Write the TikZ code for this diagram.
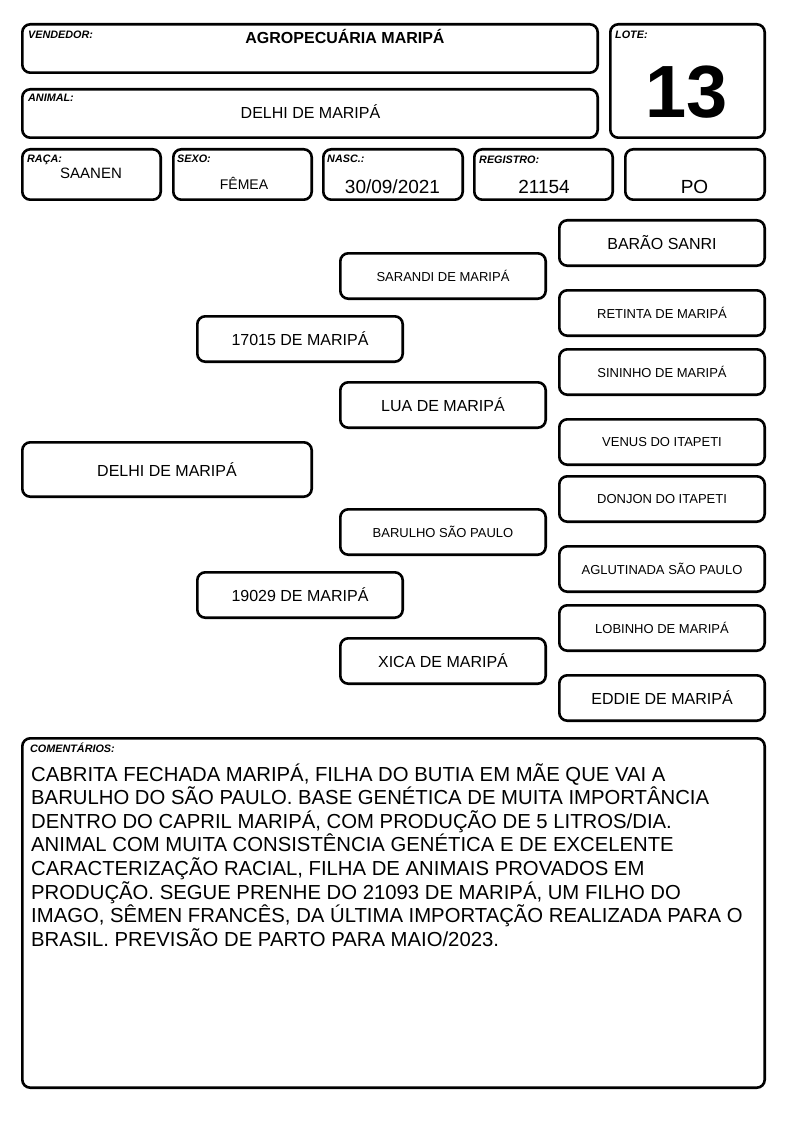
\documentclass[tikz,border=0pt]{standalone}
\usepackage{fontspec}
\setmainfont{Liberation Sans}
\newcommand\fs[1]{\fontsize{#1}{#1}\selectfont}
\begin{document}
\begin{tikzpicture}[x=1pt,y=-1pt,
  box/.style={draw, line width=2.6pt, rounded corners=8pt, inner sep=0pt},
  lbl/.style={anchor=base west, inner sep=0pt, font=\fs{10.8}\bfseries\itshape},
  val/.style={anchor=base, inner sep=0pt},
  big/.style={font=\fs{16}},
  small/.style={font=\fs{13}}]
\useasboundingbox[fill=white] (0,0) rectangle (794,1123);
\newcommand\pbox[6][]{%
  \node[box,#1, minimum width={#5pt-#3pt-2.6pt}, minimum height={#6pt-#4pt-2.6pt}]
    (#2) at ({(#3+#5)/2},{(#4+#6)/2}) {};}
\newcommand\tbox[7][]{%
  \node[box,#1, minimum width={#5pt-#3pt-2.6pt}, minimum height={#6pt-#4pt-2.6pt}]
    (#2) at ({(#3+#5)/2},{(#4+#6)/2}) {#7};}
% header boxes
\pbox{vend}{21}{23}{599}{74}
\pbox{anim}{21}{88}{599}{139}
\pbox{lote}{609}{23}{766}{139}
\pbox{raca}{21}{148}{162}{201}
\pbox{sexo}{172}{148}{313}{201}
\pbox{nasc}{322}{148}{464}{201}
\pbox{reg}{473}{148}{614}{201}
\pbox{po}{624}{148}{766}{201}
\node[lbl] (lvend) at (28,38.5) {VENDEDOR:};
\node[val, font=\fs{16}\bfseries] (tvend) at (345,43.5) {AGROPECUÁRIA MARIPÁ};
\node[lbl] (lanim) at (28,102) {ANIMAL:};
\node[val, font=\fs{16}] (tanim) at (310.5,118.5) {DELHI DE MARIPÁ};
\node[lbl] (llote) at (615,39) {LOTE:};
\node[val, font=\fs{74}\bfseries] (tlote) at (687,118) {13};
\node[lbl] (lraca) at (27,163) {RAÇA:};
\node[val, font=\fs{15}] (traca) at (91,178.3) {SAANEN};
\node[lbl] (lsexo) at (177,163) {SEXO:};
\node[val, font=\fs{14}] (tsexo) at (244,190) {FÊMEA};
\node[lbl] (lnasc) at (327,163) {NASC.:};
\node[val, font=\fs{19}] (tnasc) at (392.5,193.3) {30/09/2021};
\node[lbl] (lreg) at (479,163.5) {REGISTRO:};
\node[val, font=\fs{19}] (treg) at (544,193.3) {21154};
\node[val, font=\fs{19}] (tpo) at (694.5,193.5) {PO};
% pedigree
\tbox[big]{p1}{558}{219}{766}{267}{BARÃO SANRI}
\tbox[small]{p2}{339}{252}{547}{300}{SARANDI DE MARIPÁ}
\tbox[small]{p3}{558}{289}{766}{337}{RETINTA DE MARIPÁ}
\tbox[big]{p4}{196}{315}{404}{363}{17015 DE MARIPÁ}
\tbox[small]{p5}{558}{348}{766}{396}{SININHO DE MARIPÁ}
\tbox[big]{p6}{339}{381}{547}{429}{LUA DE MARIPÁ}
\tbox[small]{p7}{558}{418}{766}{466}{VENUS DO ITAPETI}
\tbox[big]{p8}{21}{441}{313}{498}{DELHI DE MARIPÁ}
\tbox[small]{p9}{558}{475}{766}{523}{DONJON DO ITAPETI}
\tbox[small]{p10}{339}{508}{547}{556}{BARULHO SÃO PAULO}
\tbox[small]{p11}{558}{545}{766}{593}{AGLUTINADA SÃO PAULO}
\tbox[big]{p12}{196}{571}{404}{619}{19029 DE MARIPÁ}
\tbox[small]{p13}{558}{604}{766}{652}{LOBINHO DE MARIPÁ}
\tbox[big]{p14}{339}{637}{547}{685}{XICA DE MARIPÁ}
\tbox[big]{p15}{558}{674}{766}{722}{EDDIE DE MARIPÁ}
% comments
\pbox{com}{21}{737}{766}{1089}
\node[lbl] (lcom) at (30,752.7) {COMENTÁRIOS:};
\begin{scope}[every node/.style={anchor=base west, inner sep=0pt, font=\fs{20.3}}]
\node (c1) at (31,781) {CABRITA FECHADA MARIPÁ, FILHA DO BUTIA EM MÃE QUE VAI A};
\node (c2) at (31,804.65) {BARULHO DO SÃO PAULO. BASE GENÉTICA DE MUITA IMPORTÂNCIA};
\node (c3) at (31,828.3) {DENTRO DO CAPRIL MARIPÁ, COM PRODUÇÃO DE 5 LITROS/DIA.};
\node (c4) at (31,851.95) {ANIMAL COM MUITA CONSISTÊNCIA GENÉTICA E DE EXCELENTE};
\node (c5) at (31,875.6) {CARACTERIZAÇÃO RACIAL, FILHA DE ANIMAIS PROVADOS EM};
\node (c6) at (31,899.25) {PRODUÇÃO. SEGUE PRENHE DO 21093 DE MARIPÁ, UM FILHO DO};
\node (c7) at (31,922.9) {IMAGO, SÊMEN FRANCÊS, DA ÚLTIMA IMPORTAÇÃO REALIZADA PARA O};
\node (c8) at (31,946.55) {BRASIL. PREVISÃO DE PARTO PARA MAIO/2023.};
\end{scope}
\end{tikzpicture}
\end{document}
